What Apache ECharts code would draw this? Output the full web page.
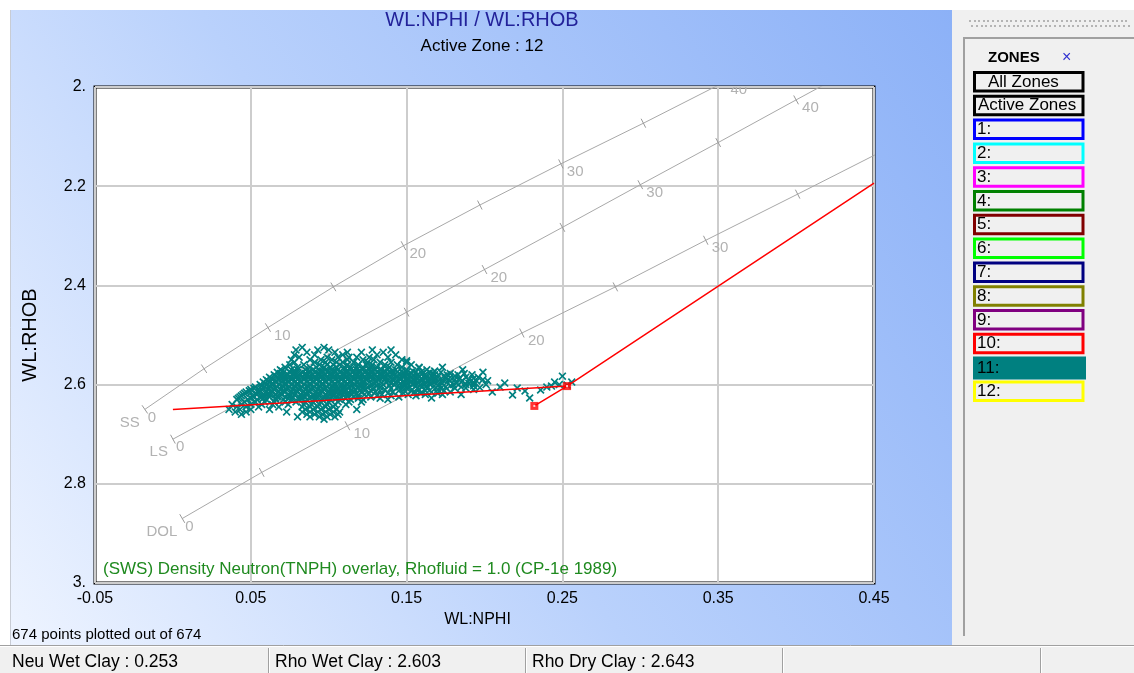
<!DOCTYPE html>
<html>
<head>
<meta charset="utf-8">
<script src="https://cdn.jsdelivr.net/npm/echarts@6/dist/echarts.min.js"></script>
<style>
  html, body { margin: 0; padding: 0; background: #ffffff; }
  #chart { width: 1134px; height: 673px; }
</style>
</head>
<body>
<div id="chart"></div>
<script>
// ---- Axis ticks -------------------------------------------------------
const nphiTicks = [-0.05, 0.05, 0.15, 0.25, 0.35, 0.45];
const rhobTicks = [2.0, 2.2, 2.4, 2.6, 2.8, 3.0];

// ---- Density-neutron overlay (CP-1e, rho fluid 1.0), every 5 p.u. ----
const poroPU  = [0, 5, 10, 15, 20, 25, 30, 35, 40, 45];
const ssNphi  = [-0.018, 0.020, 0.061, 0.103, 0.148, 0.197, 0.249, 0.302, 0.354, 0.408];
const ssRho   = [2.650, 2.568, 2.485, 2.403, 2.320, 2.238, 2.155, 2.073, 1.990, 1.908];
const lsNphi  = [0.000, 0.050, 0.100, 0.150, 0.200, 0.250, 0.300, 0.350, 0.400, 0.450];
const lsRho   = [2.710, 2.625, 2.539, 2.454, 2.368, 2.283, 2.197, 2.112, 2.026, 1.941];
const dolNphi = [0.006, 0.057, 0.112, 0.168, 0.224, 0.284, 0.342, 0.401, 0.460, 0.520];
const dolRho  = [2.870, 2.777, 2.683, 2.590, 2.496, 2.403, 2.309, 2.216, 2.122, 2.029];

// ---- Clay parameters ---------------------------------------------------
const neuWetClay = 0.253;
const rhoWetClay = 2.603;
const rhoDryClay = 2.643;
const neuDryClay = 0.232;
const sandLineNphi = [0.000, neuWetClay];
const sandLineRho  = [2.650, rhoWetClay];
const clayLineNphi = [neuDryClay, neuWetClay, 0.450];
const clayLineRho  = [rhoDryClay, rhoWetClay, 2.194];

// ---- Zone 11 samples (NPHI, RHOB), grouped by density -----------------
const cloudRho = [
  2.525, 2.530, 2.535, 2.540, 2.545, 2.550, 2.555, 2.560, 2.565, 2.570,
  2.5725, 2.575, 2.5775, 2.580, 2.5825, 2.585, 2.5875, 2.590, 2.5925, 2.595,
  2.5975, 2.600, 2.6025, 2.605, 2.6075, 2.610, 2.6125, 2.615, 2.6175, 2.620,
  2.6225, 2.625, 2.6275, 2.630, 2.635, 2.640, 2.645, 2.650, 2.655, 2.660,
  2.665, 2.670
];
const cloudNphi = [
  [0.083, 0.097],
  [0.079, 0.093, 0.100, 0.128, 0.140],
  [0.086, 0.104, 0.112, 0.121, 0.135],
  [0.078, 0.091, 0.109, 0.131, 0.143],
  [0.081, 0.099, 0.106, 0.113, 0.118, 0.126, 0.138],
  [0.076, 0.088, 0.095, 0.102, 0.112, 0.122, 0.129, 0.147],
  [0.078, 0.091, 0.098, 0.105, 0.109, 0.116, 0.125, 0.133, 0.140, 0.150],
  [0.075, 0.084, 0.094, 0.099, 0.103, 0.107, 0.112, 0.119, 0.124, 0.128, 0.136, 0.144, 0.153],
  [0.072, 0.080, 0.088, 0.092, 0.097, 0.101, 0.105, 0.110, 0.114, 0.118, 0.122, 0.127, 0.131, 0.139, 0.147, 0.158, 0.173],
  [0.069, 0.076, 0.080, 0.085, 0.090, 0.094, 0.098, 0.102, 0.106, 0.110, 0.114, 0.118, 0.122, 0.126, 0.130, 0.134, 0.138, 0.143, 0.150, 0.163, 0.186],
  [0.070, 0.078, 0.088, 0.096, 0.104, 0.112, 0.120, 0.128, 0.136, 0.141, 0.147, 0.154, 0.160, 0.168],
  [0.067, 0.071, 0.075, 0.079, 0.083, 0.087, 0.091, 0.095, 0.099, 0.103, 0.107, 0.111, 0.115, 0.119, 0.123, 0.127, 0.131, 0.135, 0.139, 0.144, 0.150, 0.156, 0.165, 0.172, 0.199],
  [0.069, 0.077, 0.085, 0.093, 0.101, 0.109, 0.117, 0.125, 0.133, 0.141, 0.148, 0.153, 0.160, 0.167, 0.178, 0.187],
  [0.065, 0.070, 0.074, 0.078, 0.082, 0.086, 0.090, 0.094, 0.098, 0.102, 0.106, 0.110, 0.114, 0.118, 0.122, 0.126, 0.130, 0.134, 0.138, 0.142, 0.146, 0.151, 0.157, 0.162, 0.168, 0.176, 0.183, 0.192],
  [0.066, 0.072, 0.080, 0.088, 0.096, 0.104, 0.112, 0.120, 0.128, 0.136, 0.144, 0.149, 0.155, 0.161, 0.166, 0.174, 0.181],
  [0.062, 0.067, 0.071, 0.075, 0.079, 0.083, 0.087, 0.091, 0.095, 0.099, 0.103, 0.107, 0.111, 0.115, 0.119, 0.123, 0.127, 0.131, 0.135, 0.139, 0.143, 0.148, 0.153, 0.158, 0.163, 0.170, 0.178, 0.188, 0.196],
  [0.063, 0.070, 0.077, 0.085, 0.093, 0.101, 0.109, 0.117, 0.125, 0.133, 0.141, 0.146, 0.151, 0.157, 0.162, 0.168, 0.175, 0.184, 0.193],
  [0.060, 0.064, 0.068, 0.072, 0.076, 0.080, 0.084, 0.088, 0.092, 0.096, 0.100, 0.104, 0.108, 0.112, 0.116, 0.120, 0.124, 0.128, 0.132, 0.136, 0.141, 0.146, 0.150, 0.155, 0.160, 0.166, 0.173, 0.181, 0.190, 0.199],
  [0.061, 0.066, 0.074, 0.082, 0.090, 0.098, 0.106, 0.114, 0.122, 0.130, 0.138, 0.144, 0.148, 0.153, 0.158, 0.164, 0.170, 0.178, 0.186, 0.195],
  [0.058, 0.062, 0.066, 0.070, 0.074, 0.078, 0.082, 0.086, 0.090, 0.094, 0.098, 0.102, 0.106, 0.110, 0.114, 0.118, 0.122, 0.126, 0.131, 0.137, 0.143, 0.148, 0.153, 0.157, 0.162, 0.168, 0.176, 0.185, 0.193],
  [0.059, 0.064, 0.072, 0.080, 0.088, 0.096, 0.104, 0.112, 0.120, 0.129, 0.134, 0.140, 0.146, 0.151, 0.156, 0.161, 0.166, 0.173, 0.182, 0.190],
  [0.056, 0.060, 0.064, 0.068, 0.072, 0.076, 0.080, 0.084, 0.088, 0.092, 0.096, 0.100, 0.104, 0.108, 0.112, 0.117, 0.122, 0.128, 0.135, 0.142, 0.149, 0.154, 0.159, 0.165, 0.171, 0.180, 0.188, 0.201],
  [0.057, 0.062, 0.070, 0.078, 0.086, 0.094, 0.102, 0.110, 0.115, 0.120, 0.126, 0.131, 0.139, 0.147, 0.156, 0.163, 0.170, 0.178, 0.193],
  [0.053, 0.059, 0.063, 0.067, 0.071, 0.075, 0.079, 0.083, 0.087, 0.091, 0.095, 0.099, 0.103, 0.108, 0.113, 0.119, 0.125, 0.133, 0.145, 0.152, 0.160, 0.167, 0.175, 0.185],
  [0.052, 0.058, 0.066, 0.074, 0.082, 0.090, 0.098, 0.104, 0.110, 0.116, 0.122, 0.129, 0.140, 0.150, 0.157, 0.163, 0.172, 0.181],
  [0.050, 0.057, 0.061, 0.065, 0.069, 0.073, 0.077, 0.081, 0.085, 0.089, 0.093, 0.097, 0.101, 0.106, 0.111, 0.117, 0.124, 0.136, 0.148, 0.158, 0.170, 0.193],
  [0.049, 0.056, 0.063, 0.071, 0.079, 0.087, 0.095, 0.103, 0.108, 0.114, 0.120, 0.127, 0.133, 0.145, 0.153, 0.162, 0.174],
  [0.047, 0.055, 0.060, 0.064, 0.068, 0.072, 0.076, 0.080, 0.084, 0.088, 0.092, 0.096, 0.100, 0.105, 0.110, 0.116, 0.121, 0.130, 0.141, 0.155, 0.166, 0.178],
  [0.046, 0.053, 0.061, 0.069, 0.077, 0.085, 0.093, 0.101, 0.107, 0.112, 0.118, 0.126, 0.138, 0.148, 0.159, 0.170],
  [0.045, 0.054, 0.058, 0.062, 0.066, 0.070, 0.074, 0.078, 0.082, 0.086, 0.090, 0.094, 0.098, 0.103, 0.109, 0.115, 0.123, 0.134, 0.151, 0.162],
  [0.044, 0.051, 0.059, 0.067, 0.075, 0.083, 0.091, 0.099, 0.105, 0.112, 0.119, 0.131, 0.140, 0.156],
  [0.043, 0.052, 0.057, 0.062, 0.067, 0.072, 0.077, 0.081, 0.085, 0.089, 0.093, 0.097, 0.102, 0.108, 0.116, 0.127, 0.145],
  [0.042, 0.050, 0.058, 0.066, 0.074, 0.083, 0.091, 0.099, 0.105, 0.111, 0.119, 0.133],
  [0.041, 0.048, 0.054, 0.060, 0.066, 0.071, 0.076, 0.081, 0.086, 0.091, 0.096, 0.101, 0.107, 0.114, 0.122, 0.138],
  [0.046, 0.053, 0.059, 0.065, 0.072, 0.079, 0.085, 0.090, 0.095, 0.100, 0.106, 0.113, 0.121],
  [0.038, 0.044, 0.050, 0.057, 0.064, 0.074, 0.084, 0.089, 0.094, 0.099, 0.104, 0.111],
  [0.041, 0.047, 0.055, 0.068, 0.083, 0.088, 0.093, 0.098, 0.103],
  [0.036, 0.043, 0.050, 0.062, 0.085, 0.090, 0.095, 0.100, 0.105, 0.118],
  [0.040, 0.047, 0.073, 0.083, 0.088, 0.093, 0.098, 0.103, 0.107],
  [0.044, 0.086, 0.091, 0.096, 0.101, 0.106],
  [0.080, 0.088, 0.094, 0.099, 0.104],
  [0.097]
];
// sparse samples trending toward the wet-clay point
const tailPoints = [
  [0.150, 2.552], [0.205, 2.615], [0.210, 2.605], [0.218, 2.621], [0.221, 2.607],
  [0.229, 2.627], [0.236, 2.611], [0.240, 2.605], [0.245, 2.595], [0.250, 2.583],
  [0.256, 2.595], [0.253, 2.601], [0.248, 2.600], [0.243, 2.603], [0.226, 2.613],
  [0.213, 2.597], [0.202, 2.592], [0.197, 2.606], [0.185, 2.620], [0.158, 2.566],
  [0.188, 2.607], [0.193, 2.598], [0.173, 2.620], [0.166, 2.627]
];

// ---- Zone selector -----------------------------------------------------
const zoneLabels = ['1:', '2:', '3:', '4:', '5:', '6:', '7:', '8:', '9:', '10:', '11:', '12:'];
const zoneColors = ['#0000ff', '#00ffff', '#ff00ff', '#008000', '#800000', '#00ff00',
                    '#000080', '#808000', '#800080', '#ff0000', '#008080', '#ffff00'];
const plottedZone = 11;
const activeZone = 12;

// -----------------------------------------------------------------------
const samples = [];
cloudRho.forEach((r, i) => cloudNphi[i].forEach(n => samples.push([n, r])));
tailPoints.forEach(p => samples.push(p));

const FONT = "'Liberation Sans', Arial, sans-serif";
const CROSS = 'path://M0,1.5L1.5,0L5,3.5L8.5,0L10,1.5L6.5,5L10,8.5L8.5,10L5,6.5L1.5,10L0,8.5L3.5,5Z';

function lithoLine(nphi, rho) {
  return {
    type: 'line', data: nphi.map((n, i) => [n, rho[i]]), showSymbol: false, silent: true,
    lineStyle: { color: '#a8a8a8', width: 1 }, z: 2, animation: false
  };
}

// small perpendicular ticks every 5 p.u. with porosity labels every 10 p.u.
function lithoTicks(nphi, rho, name) {
  return {
    type: 'custom', clip: true, silent: true, z: 3, animation: false,
    data: poroPU.map((p, i) => [nphi[i], rho[i], p]),
    encode: { x: 0, y: 1 },
    renderItem: function (params, api) {
      const i = params.dataIndex;
      const p = api.coord([api.value(0), api.value(1)]);
      const j = i < nphi.length - 1 ? i + 1 : i - 1;
      const q = api.coord([nphi[j], rho[j]]);
      let dx = q[0] - p[0], dy = q[1] - p[1];
      if (j < i) { dx = -dx; dy = -dy; }
      const len = Math.hypot(dx, dy) || 1;
      const nx = -dy / len, ny = dx / len;
      const h = 5;
      const kids = [{
        type: 'line',
        shape: { x1: p[0] + nx * h, y1: p[1] + ny * h, x2: p[0] - nx * h, y2: p[1] - ny * h },
        style: { stroke: '#9a9a9a', lineWidth: 1 }
      }];
      const pu = api.value(2);
      if (pu % 10 === 0) {
        kids.push({ type: 'text', x: p[0] + (pu === 0 ? 3 : 6), y: p[1] + 8,
          style: { text: String(pu), fill: '#b2b2b2', font: '15px ' + FONT, align: 'left', verticalAlign: 'middle' } });
      }
      if (pu === 0) {
        kids.push({ type: 'text', x: p[0] - 5, y: p[1] + 13,
          style: { text: name, fill: '#b2b2b2', font: '15px ' + FONT, align: 'right', verticalAlign: 'middle' } });
      }
      return { type: 'group', children: kids };
    }
  };
}

// ---- Frame, titles, side panel and status bar ---------------------------
const graphics = [];
graphics.push({ type: 'rect', z: -10, silent: true, shape: { x: 10, y: 10, width: 942, height: 635 },
  style: { fill: { type: 'linear', x: 0, y: 1, x2: 1, y2: 0,
    colorStops: [{ offset: 0, color: '#eef4ff' }, { offset: 0.45, color: '#b9d1fc' }, { offset: 1, color: '#8cb1f7' }] } } });
graphics.push({ type: 'line', z: -9, silent: true, shape: { x1: 10.5, y1: 10, x2: 10.5, y2: 645 }, style: { stroke: '#c8ccd4', lineWidth: 1 } });
graphics.push({ type: 'text', z: 60, silent: true, x: 482, y: 20,
  style: { text: 'WL:NPHI / WL:RHOB', fill: '#22229a', font: '20px ' + FONT, align: 'center', verticalAlign: 'middle' } });
graphics.push({ type: 'text', z: 60, silent: true, x: 482, y: 46,
  style: { text: 'Active Zone : ' + activeZone, fill: '#000', font: '17px ' + FONT, align: 'center', verticalAlign: 'middle' } });

graphics.push({ type: 'rect', z: -9, silent: true, shape: { x: 952, y: 10, width: 182, height: 635 }, style: { fill: '#f0f0f0' } });
for (let x = 969; x < 1128; x += 4.6) {
  graphics.push({ type: 'rect', z: 50, silent: true, shape: { x: Math.round(x), y: 20, width: 2, height: 2 }, style: { fill: '#b4b4b4' } });
  graphics.push({ type: 'rect', z: 50, silent: true, shape: { x: Math.round(x + 2.3), y: 25, width: 2, height: 2 }, style: { fill: '#b4b4b4' } });
}
graphics.push({ type: 'polyline', z: 50, silent: true, shape: { points: [[964, 636], [964, 38], [1134, 38]] }, style: { stroke: '#a0a0a0', lineWidth: 2, fill: null } });
graphics.push({ type: 'text', z: 51, silent: true, x: 988, y: 58,
  style: { text: 'ZONES', fill: '#000', font: 'bold 15px ' + FONT, verticalAlign: 'middle' } });
graphics.push({ type: 'text', z: 51, silent: true, x: 1062, y: 58,
  style: { text: '×', fill: '#3030d0', font: '16px ' + FONT, verticalAlign: 'middle' } });

const buttons = [{ label: 'All Zones', color: '#000000', tx: 988 }, { label: 'Active Zones', color: '#000000', tx: 978 }]
  .concat(zoneLabels.map((l, i) => ({ label: l, color: zoneColors[i], tx: 977, fill: i + 1 === plottedZone })));
buttons.forEach((b, i) => {
  const top = 71 + i * 23.8;
  if (b.fill) {
    graphics.push({ type: 'rect', z: 51, silent: true, shape: { x: 973, y: top, width: 113, height: 23 }, style: { fill: b.color } });
  } else {
    graphics.push({ type: 'rect', z: 51, silent: true, shape: { x: 974.5, y: top + 1.5, width: 108.5, height: 18.5 },
      style: { fill: '#f0f0f0', stroke: b.color, lineWidth: 3 } });
  }
  graphics.push({ type: 'text', z: 52, silent: true, x: b.tx, y: top + (b.fill ? 12 : 11),
    style: { text: b.label, fill: '#000', font: '17px ' + FONT, verticalAlign: 'middle' } });
});

graphics.push({ type: 'rect', z: -9, silent: true, shape: { x: 0, y: 645, width: 1134, height: 28 }, style: { fill: '#f0f0f0' } });
graphics.push({ type: 'line', z: 50, silent: true, shape: { x1: 0, y1: 645.5, x2: 1134, y2: 645.5 }, style: { stroke: '#a0a0a0', lineWidth: 1 } });
graphics.push({ type: 'line', z: 50, silent: true, shape: { x1: 0, y1: 646.5, x2: 1134, y2: 646.5 }, style: { stroke: '#ffffff', lineWidth: 1 } });
[268, 525, 782, 1040].forEach(x => {
  graphics.push({ type: 'line', z: 50, silent: true, shape: { x1: x + 0.5, y1: 648, x2: x + 0.5, y2: 673 }, style: { stroke: '#a0a0a0', lineWidth: 1 } });
  graphics.push({ type: 'line', z: 50, silent: true, shape: { x1: x + 1.5, y1: 648, x2: x + 1.5, y2: 673 }, style: { stroke: '#ffffff', lineWidth: 1 } });
});
[['Neu Wet Clay : ' + neuWetClay.toFixed(3), 12],
 ['Rho Wet Clay : ' + rhoWetClay.toFixed(3), 275],
 ['Rho Dry Clay : ' + rhoDryClay.toFixed(3), 532]].forEach(([t, x]) => {
  graphics.push({ type: 'text', z: 51, silent: true, x: x, y: 662,
    style: { text: t, fill: '#000', font: '17.5px ' + FONT, verticalAlign: 'middle' } });
});
graphics.push({ type: 'text', z: 51, silent: true, x: 12, y: 635,
  style: { text: samples.length + ' points plotted out of ' + samples.length, fill: '#000', font: '15px ' + FONT, verticalAlign: 'middle' } });
graphics.push({ type: 'text', z: 60, silent: true, x: 103, y: 569,
  style: { text: '(SWS) Density Neutron(TNPH) overlay, Rhofluid = 1.0 (CP-1e 1989)', fill: '#1f8a1f', font: '17px ' + FONT, verticalAlign: 'middle' } });

// ---- Chart -------------------------------------------------------------
const chart = echarts.init(document.getElementById('chart'), null, { renderer: 'canvas' });
chart.setOption({
  animation: false,
  backgroundColor: '#ffffff',
  grid: { left: 95, top: 87, right: 260, bottom: 90, show: true, backgroundColor: '#ffffff',
          borderColor: '#000000', borderWidth: 3 },
  xAxis: {
    type: 'value', min: nphiTicks[0], max: nphiTicks[nphiTicks.length - 1], interval: 0.1,
    name: 'WL:NPHI', nameLocation: 'middle', nameGap: 27,
    nameTextStyle: { color: '#000', fontSize: 16, fontFamily: FONT, padding: [0, 14, 0, 0] },
    axisLine: { show: false }, axisTick: { show: false },
    axisLabel: { color: '#000', fontSize: 16, fontFamily: FONT, margin: 8, formatter: v => v.toFixed(2) },
    splitLine: { show: true, lineStyle: { color: '#cdcdcd', width: 2 } }
  },
  yAxis: {
    type: 'value', inverse: true, min: rhobTicks[0], max: rhobTicks[rhobTicks.length - 1], interval: 0.2,
    name: 'WL:RHOB', nameLocation: 'middle', nameGap: 55,
    nameTextStyle: { color: '#000', fontSize: 20, fontFamily: FONT },
    axisLine: { show: false }, axisTick: { show: false },
    axisLabel: { color: '#000', fontSize: 16, fontFamily: FONT, margin: 9,
      formatter: v => (Math.abs(v - Math.round(v)) < 1e-9 ? Math.round(v) + '.' : v.toFixed(1)) },
    splitLine: { show: true, lineStyle: { color: '#cdcdcd', width: 2 } }
  },
  graphic: graphics,
  series: [
    lithoLine(ssNphi, ssRho), lithoLine(lsNphi, lsRho), lithoLine(dolNphi, dolRho),
    lithoTicks(ssNphi, ssRho, 'SS'), lithoTicks(lsNphi, lsRho, 'LS'), lithoTicks(dolNphi, dolRho, 'DOL'),
    { type: 'scatter', data: samples, symbol: CROSS, symbolSize: 8, silent: true, z: 5,
      itemStyle: { color: '#008080', opacity: 1 } },
    { type: 'line', data: sandLineNphi.map((n, i) => [n, sandLineRho[i]]), showSymbol: false, silent: true, z: 6,
      lineStyle: { color: '#ff0000', width: 1.5 } },
    { type: 'line', data: clayLineNphi.map((n, i) => [n, clayLineRho[i]]), showSymbol: false, silent: true, z: 6,
      lineStyle: { color: '#ff0000', width: 1.5 } },
    { type: 'scatter', data: [[neuDryClay, rhoDryClay], [neuWetClay, rhoWetClay]], symbol: 'rect', symbolSize: 8,
      silent: true, z: 7, itemStyle: { color: '#ff0000' } },
    { type: 'scatter', data: [[neuDryClay, rhoDryClay], [neuWetClay, rhoWetClay]], symbol: 'rect', symbolSize: 2,
      silent: true, z: 8, itemStyle: { color: '#ffffff' } }
  ]
});
</script>
</body>
</html>
